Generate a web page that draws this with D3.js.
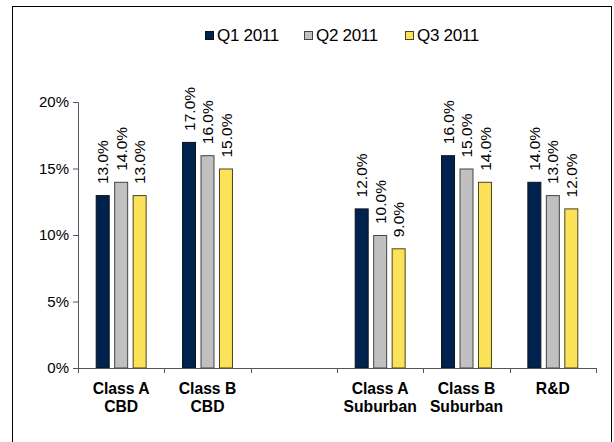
<!DOCTYPE html>
<html>
<head>
<meta charset="utf-8">
<script src="https://cdn.jsdelivr.net/npm/d3@7"></script>
<style>
  html, body { margin: 0; padding: 0; background: #fff; }
  svg { display: block; font-family: Arial, "Liberation Sans", sans-serif; }
</style>
</head>
<body>
<div id="chart"></div>
<script>
const width = 614;
const height = 442;

// data
const categories = ["Class A\nCBD", "Class B\nCBD", "", "Class A\nSuburban", "Class B\nSuburban", "R&D"];
const seriesNames = ["Q1 2011", "Q2 2011", "Q3 2011"];
const q1Values = [13, 17, null, 12, 16, 14];
const q2Values = [14, 16, null, 10, 15, 13];
const q3Values = [13, 15, null, 9, 14, 12];
const yTicks = [0, 5, 10, 15, 20];

const seriesValues = [q1Values, q2Values, q3Values];
const colors = ["#00224f", "#c0c0c0", "#fbe259"];
const strokes = ["#111", "#444", "#4a4320"];

const svg = d3.select("#chart")
  .append("svg")
  .attr("width", width)
  .attr("height", height);

// outer frame
svg.append("rect")
  .attr("x", 12.5)
  .attr("y", 6.5)
  .attr("width", 599)
  .attr("height", 445)
  .attr("fill", "#fff")
  .attr("stroke", "#000")
  .attr("stroke-width", 1);

const plotLeft = 78, plotRight = 596;
const plotTop = 102, plotBottom = 368;

// scales
const x0 = d3.scaleBand()
  .domain(d3.range(categories.length))
  .range([plotLeft, plotRight])
  .paddingInner(0.41)
  .paddingOuter(0.205);

const x1 = d3.scaleBand()
  .domain(seriesNames)
  .range([0, x0.bandwidth()])
  .paddingInner(0.243);

const y = d3.scaleLinear()
  .domain([0, 20])
  .range([plotBottom, plotTop]);

// y axis
const yAxis = svg.append("g")
  .attr("transform", `translate(${plotLeft},0)`)
  .call(d3.axisLeft(y).tickValues(yTicks).tickSize(5).tickPadding(4).tickFormat(d => d + "%"));
yAxis.select(".domain").attr("stroke", "#555");
yAxis.selectAll(".tick line").attr("stroke", "#555");
yAxis.selectAll("text")
  .attr("font-size", 15)
  .attr("font-family", "Arial, 'Liberation Sans', sans-serif")
  .attr("fill", "#000");

// bars
const fmt = d3.format(".1f");
seriesNames.forEach((name, si) => {
  const rows = categories.map((c, i) => ({ i, v: seriesValues[si][i] })).filter(d => d.v != null);

  svg.append("g")
    .selectAll("rect")
    .data(rows)
    .join("rect")
    .attr("x", d => x0(d.i) + x1(name) + 0.5)
    .attr("y", d => y(d.v) + 0.5)
    .attr("width", x1.bandwidth() - 1)
    .attr("height", d => y(0) - y(d.v) - 0.5)
    .attr("fill", colors[si])
    .attr("stroke", strokes[si])
    .attr("stroke-width", 1);

  svg.append("g")
    .selectAll("text")
    .data(rows)
    .join("text")
    .attr("transform", d => `translate(${x0(d.i) + x1(name) + x1.bandwidth() / 2},${y(d.v) - 11}) rotate(-90)`)
    .attr("dy", "0.36em")
    .attr("font-size", 15.5)
    .attr("fill", "#000")
    .text(d => fmt(d.v) + "%");
});

// x axis (category boundaries as ticks)
const xAxisG = svg.append("g");
xAxisG.append("line")
  .attr("x1", plotLeft).attr("x2", plotRight)
  .attr("y1", plotBottom + 0.5).attr("y2", plotBottom + 0.5)
  .attr("stroke", "#555");
const boundaries = d3.range(categories.length + 1).map(i => plotLeft + i * x0.step());
xAxisG.selectAll(".xtick")
  .data(boundaries)
  .join("line")
  .attr("x1", d => Math.round(d) + 0.5).attr("x2", d => Math.round(d) + 0.5)
  .attr("y1", plotBottom).attr("y2", plotBottom + 5)
  .attr("stroke", "#555");

const catLabels = svg.append("g")
  .selectAll("text")
  .data(categories.map((c, i) => ({ c, i })))
  .join("text")
  .attr("x", d => x0(d.i) + x0.bandwidth() / 2)
  .attr("y", 393.5)
  .attr("text-anchor", "middle")
  .attr("font-size", 15.7)
  .attr("font-weight", "bold")
  .attr("fill", "#000");
catLabels.each(function(d) {
  const lines = d.c.split("\n");
  d3.select(this).selectAll("tspan")
    .data(lines)
    .join("tspan")
    .attr("x", x0(d.i) + x0.bandwidth() / 2)
    .attr("dy", (l, j) => j === 0 ? 0 : 18.5)
    .text(l => l);
});

// legend
const legendX = [205, 304, 405];
const legend = svg.append("g");
seriesNames.forEach((name, si) => {
  const g = legend.append("g").attr("transform", `translate(${legendX[si]},31)`);
  g.append("rect")
    .attr("x", 0.5).attr("y", 0.5)
    .attr("width", 8).attr("height", 8)
    .attr("fill", colors[si])
    .attr("stroke", strokes[si]);
  g.append("text")
    .attr("x", 12)
    .attr("y", 9.7)
    .attr("font-size", 17)
    .attr("letter-spacing", -0.3)
    .attr("fill", "#000")
    .text(name);
});
</script>
</body>
</html>
